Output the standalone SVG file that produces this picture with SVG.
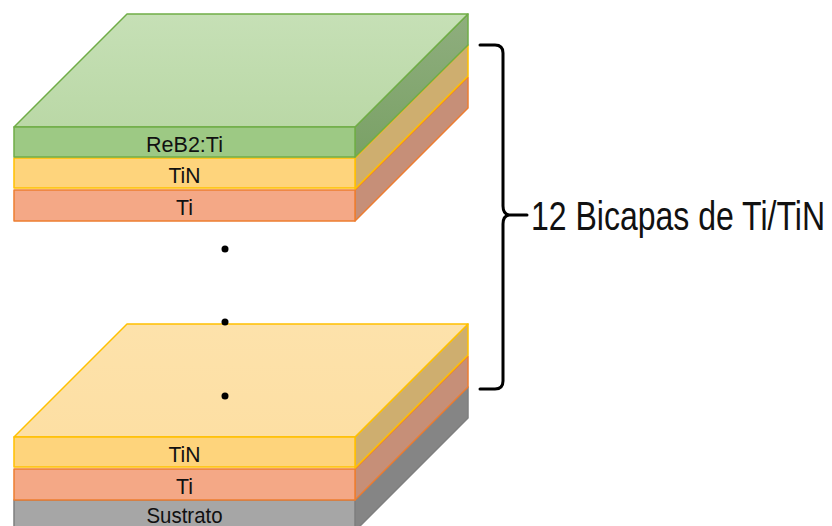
<svg xmlns="http://www.w3.org/2000/svg" width="832" height="526" viewBox="0 0 832 526">
  <defs>
    <linearGradient id="gTop" x1="0" y1="0" x2="0" y2="1">
      <stop offset="0" stop-color="#c6e0b6"/>
      <stop offset="1" stop-color="#bad8a6"/>
    </linearGradient>
    <linearGradient id="gSide" x1="0" y1="0" x2="0" y2="1">
      <stop offset="0" stop-color="#8fae7e"/>
      <stop offset="1" stop-color="#7aa166"/>
    </linearGradient>
    <linearGradient id="yTop" x1="0" y1="0" x2="0" y2="1">
      <stop offset="0" stop-color="#fde2ab"/>
      <stop offset="1" stop-color="#fddfa3"/>
    </linearGradient>
  </defs>
  <style>
    .lbl { font-family: "Liberation Sans", Arial, sans-serif; font-size: 22px; fill: #111; text-anchor: middle; }
    .big { font-family: "Liberation Sans", Arial, sans-serif; font-size: 40px; fill: #111; }
    .green { stroke: #70ad47; stroke-width: 1.5; stroke-linejoin: round; }
    .tin { stroke: #ffc000; stroke-width: 1.5; stroke-linejoin: round; }
    .ti { stroke: #ed7d31; stroke-width: 1.5; stroke-linejoin: round; }
    .sub { stroke: #7f7f7f; stroke-width: 1.5; stroke-linejoin: round; }
    .dot { fill: #000; }
    .brace { fill: none; stroke: #000; stroke-width: 3; stroke-linecap: round; stroke-linejoin: round; }
  </style>

  <!-- upper stack -->
  <g id="top-ti">
    <polygon class="ti" points="355,190 468,77 468,108 355,221" fill="#c68f78"/>
    <rect class="ti" x="14" y="190" width="341" height="31" fill="#f4a886"/>
    <text class="lbl" x="184.5" y="215" textLength="17" lengthAdjust="spacingAndGlyphs">Ti</text>
  </g>
  <g id="top-tin">
    <polygon class="tin" points="355,158 468,45 468,76 355,189" fill="#ceae6f"/>
    <rect class="tin" x="14" y="158" width="341" height="30" fill="#fed47c"/>
    <text class="lbl" x="184.5" y="182.5" textLength="32" lengthAdjust="spacingAndGlyphs">TiN</text>
  </g>
  <g id="top-reb2">
    <polygon class="green" points="355,127 468,14 468,45 355,157" fill="url(#gSide)"/>
    <polygon class="green" points="14,127 127,14 468,14 355,127" fill="url(#gTop)"/>
    <rect class="green" x="14" y="127" width="341" height="30" fill="#9dc984"/>
    <text class="lbl" x="184.5" y="151.5" textLength="77" lengthAdjust="spacingAndGlyphs">ReB2:Ti</text>
  </g>

  <!-- lower stack -->
  <g id="bottom-sustrato">
    <polygon class="sub" points="355,500 468,387 468,418 355,531" fill="#858585"/>
    <rect class="sub" x="14" y="500" width="341" height="31" fill="#a6a6a6"/>
    <text class="lbl" x="184.5" y="522.5" textLength="76" lengthAdjust="spacingAndGlyphs">Sustrato</text>
  </g>
  <g id="bottom-ti">
    <polygon class="ti" points="355,469 468,356 468,387 355,500" fill="#c68f78"/>
    <rect class="ti" x="14" y="469" width="341" height="31" fill="#f4a886"/>
    <text class="lbl" x="184.5" y="493.5" textLength="17" lengthAdjust="spacingAndGlyphs">Ti</text>
  </g>
  <g id="bottom-tin">
    <polygon class="tin" points="355,437 468,324 468,355 355,468" fill="#ceae6f"/>
    <polygon class="tin" points="14,437 127,324 468,324 355,437" fill="url(#yTop)"/>
    <rect class="tin" x="14" y="437" width="341" height="30" fill="#fed47c"/>
    <text class="lbl" x="184.5" y="462" textLength="32" lengthAdjust="spacingAndGlyphs">TiN</text>
  </g>

  <!-- ellipsis between the stacks -->
  <g id="ellipsis">
    <circle class="dot" cx="225" cy="249" r="3.5"/>
    <circle class="dot" cx="225" cy="322" r="3.5"/>
    <circle class="dot" cx="225" cy="396" r="3.5"/>
  </g>

  <!-- brace grouping the bilayers -->
  <g id="connectors">
    <path class="brace" d="M480,45 H495 Q503,45 503,53 V206 Q503,214 509,215 Q503,216 503,224 V381 Q503,389 495,389 H480 M509,215 H527"/>
  </g>
  <g id="bilayer-label">
    <!-- condensed label: natural Liberation Sans width squeezed horizontally -->
    <text class="big" transform="translate(531,230) scale(0.8,1)" x="0" y="0">12 Bicapas de Ti/TiN</text>
  </g>
</svg>
